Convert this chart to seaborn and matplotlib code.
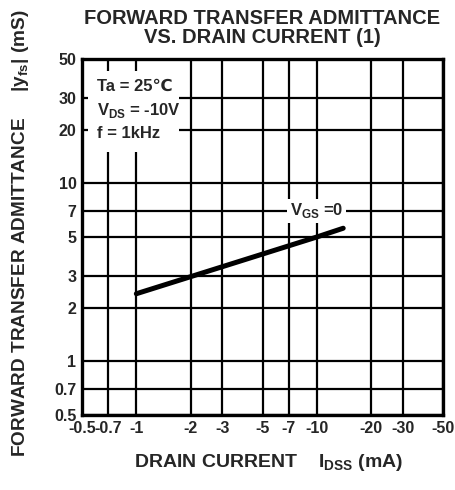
import numpy as np
import matplotlib
matplotlib.use("Agg")
import matplotlib.pyplot as plt
import seaborn as sns
from matplotlib.patches import Rectangle

sns.set_style("white")
plt.rcParams['font.family'] = ['Liberation Sans', 'DejaVu Sans']

# data (drain current magnitude in mA, |yfs| in mS)
drain_current = [1, 10, 14]
yfs = [2.4, 5.0, 5.6]

x_ticks = [0.5, 0.7, 1, 2, 3, 5, 7, 10, 20, 30, 50]
x_labels = ["-0.5", "-0.7", "-1", "-2", "-3", "-5", "-7", "-10", "-20", "-30", "-50"]
y_ticks = [0.5, 0.7, 1, 2, 3, 5, 7, 10, 20, 30, 50]
y_labels = ["0.5", "0.7", "1", "2", "3", "5", "7", "10", "20", "30", "50"]

fig = plt.figure(figsize=(4.55, 4.9), dpi=100)
ax = fig.add_axes([82/455, 1-415/490, 361/455, 356/490])

sns.lineplot(x=drain_current, y=yfs, ax=ax, color="black", linewidth=3.6, zorder=3)

ax.set_xscale("log")
ax.set_yscale("log")
ax.set_xlim(0.5, 50)
ax.set_ylim(0.5, 50)
ax.set_xticks(x_ticks)
ax.set_xticklabels(x_labels)
ax.set_yticks(y_ticks)
ax.set_yticklabels(y_labels)
ax.minorticks_off()
ax.tick_params(length=0, labelsize=11.5, pad=4)
ax.tick_params(axis="x", pad=4)
for lab in ax.get_xticklabels() + ax.get_yticklabels():
    lab.set_fontweight("bold")

ax.set_axisbelow(True)
ax.grid(True, color="black", linewidth=1.6)
for s in ax.spines.values():
    s.set_linewidth(2.4)
    s.set_color("black")

# white box over the grid behind the conditions
ax.add_patch(Rectangle((0.017, 0.739), 0.253, 0.227, transform=ax.transAxes,
                       facecolor="white", edgecolor="none", zorder=1))
ax.text(0.042, 0.945, "Ta = 25\u2103\nV$_\\mathregular{DS}$ = -10V\nf = 1kHz",
        transform=ax.transAxes, ha="left", va="top", fontsize=12,
        fontweight="bold", linespacing=1.5, zorder=4)

ax.text(10, 7.0, "V$_\\mathregular{GS}$ =0", ha="center", va="center",
        fontsize=12, fontweight="bold", zorder=4,
        bbox=dict(facecolor="white", edgecolor="none", pad=2))

fig.text(262/455, 1-28/490, "FORWARD TRANSFER ADMITTANCE\nVS. DRAIN CURRENT (1)",
         ha="center", va="center", fontsize=14.5, fontweight="bold", linespacing=1.05)
fig.text(269/455, 1-462/490, "DRAIN CURRENT    I$_\\mathregular{DSS}$ (mA)",
         ha="center", va="center", fontsize=14, fontweight="bold")
fig.text(21/455, 1-233/490, "FORWARD TRANSFER ADMITTANCE     |y$_\\mathregular{fs}$| (mS)",
         ha="center", va="center", rotation=90, fontsize=13.7, fontweight="bold")

fig.savefig("out.png", dpi=100)
